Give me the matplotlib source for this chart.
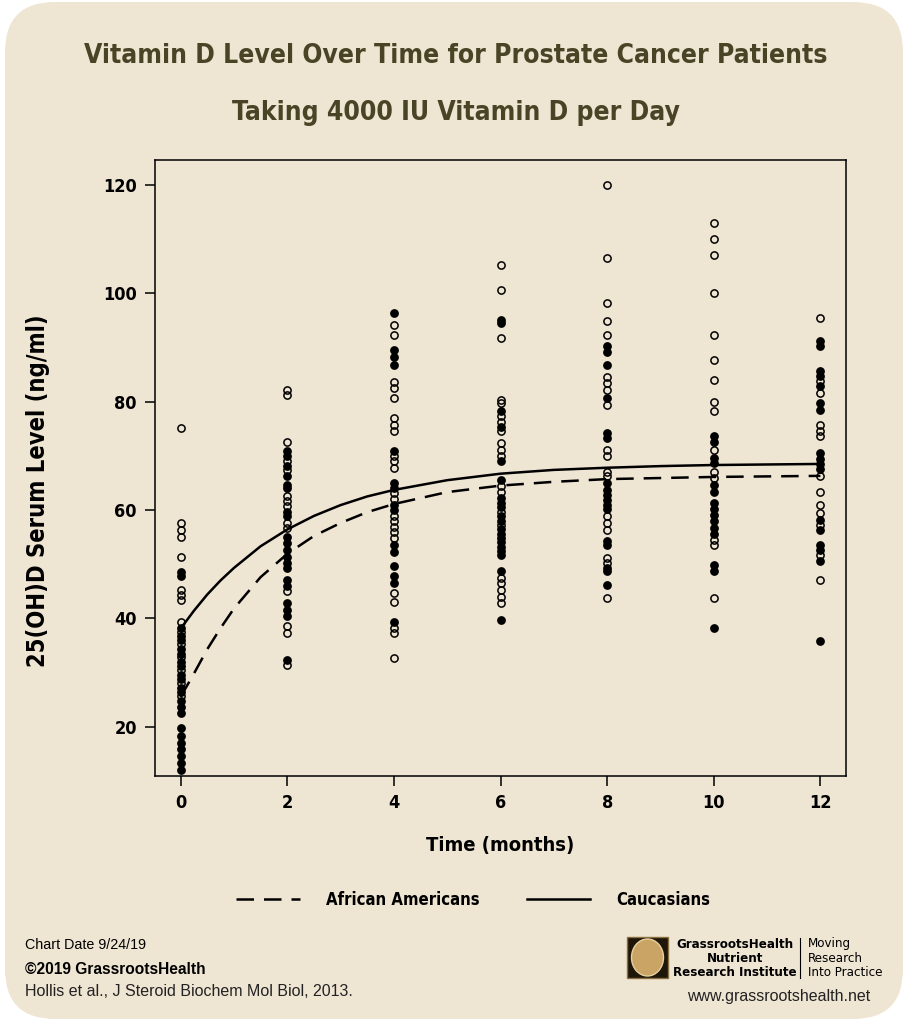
import matplotlib
matplotlib.use("Agg")
import matplotlib.pyplot as plt
from matplotlib.patches import FancyBboxPatch, Rectangle, Ellipse
from matplotlib.lines import Line2D

# ---- data ----
# measurement visits (months) and 25(OH)D values, filled markers
filled_0 = [48.5, 47.8, 38.2, 36.8, 36.0, 34.4, 33.5, 32.0, 31.2, 29.6, 28.8, 27.2,
            26.4, 24.8, 23.7, 22.6, 19.8, 18.2, 17.0, 15.8, 14.5, 13.3, 12.0]
open_0 = [75.2, 57.6, 56.3, 55.1, 51.4, 45.3, 44.4, 43.4, 39.4, 37.5, 35.2, 32.8,
          30.5, 28.0, 25.6]
filled_2 = [70.8, 69.9, 68.1, 66.2, 64.6, 64.1, 59.7, 58.8, 55.1, 53.9, 52.7, 51.4,
            50.2, 49.3, 47.1, 45.9, 42.8, 41.6, 40.4, 32.4]
open_2 = [82.2, 81.3, 72.6, 69.0, 67.4, 62.5, 61.6, 60.7, 57.6, 56.7, 45.0, 38.5,
          37.3, 31.4]
filled_4 = [96.3, 89.6, 88.3, 86.8, 70.8, 65.0, 64.0, 61.0, 60.0, 53.6, 52.3, 49.6,
            47.8, 46.5, 39.4]
open_4 = [94.2, 92.3, 83.7, 82.5, 80.6, 77.0, 75.7, 74.5, 69.9, 69.0, 67.7, 63.1,
          62.1, 58.8, 57.9, 56.9, 56.0, 54.8, 44.7, 43.1, 38.2, 37.3, 32.7]
filled_6 = [95.1, 94.5, 78.2, 75.4, 69.0, 65.6, 62.2, 61.3, 60.5, 58.8, 58.0, 56.4,
            55.6, 54.8, 54.0, 53.2, 52.4, 51.6, 48.7, 39.7]
open_6 = [105.2, 100.6, 91.7, 80.3, 79.8, 77.3, 76.3, 74.5, 72.3, 71.1, 69.9, 64.4,
          63.4, 59.6, 57.2, 47.4, 46.5, 45.3, 44.0, 42.8]
filled_8 = [90.2, 89.2, 86.8, 80.6, 74.2, 73.3, 65.0, 63.7, 62.8, 61.9, 61.0, 60.1,
            54.2, 53.6, 49.3, 48.7, 46.2]
open_8 = [120.0, 106.5, 98.2, 94.8, 92.3, 84.6, 83.4, 82.2, 79.4, 71.1, 69.9, 67.1,
          66.2, 58.8, 57.6, 56.3, 51.1, 50.2, 43.8]
filled_10 = [73.6, 72.6, 69.6, 68.7, 64.6, 63.4, 61.3, 60.2, 59.0, 57.9, 56.7, 55.6,
             49.9, 48.7, 38.2]
open_10 = [112.9, 110.0, 107.1, 100.0, 92.3, 87.7, 84.0, 80.0, 78.2, 71.1, 67.1,
           65.9, 54.4, 53.6, 43.8]
filled_12 = [91.1, 90.2, 85.6, 84.7, 82.8, 79.7, 78.5, 70.5, 69.5, 68.5, 67.5, 58.2,
             56.3, 53.6, 52.6, 50.5, 35.8]
open_12 = [95.4, 83.8, 81.6, 75.7, 74.5, 73.6, 66.2, 63.4, 61.0, 59.4, 57.3, 51.6,
           47.1]

visits = [0, 2, 4, 6, 8, 10, 12]
filled_vals = [filled_0, filled_2, filled_4, filled_6, filled_8, filled_10, filled_12]
open_vals = [open_0, open_2, open_4, open_6, open_8, open_10, open_12]

# fitted curves, read at a set of times
curve_t = [0, 0.25, 0.5, 0.75, 1, 1.5, 2, 2.5, 3, 3.5, 4, 5, 6, 7, 8, 9, 10, 11, 12]
afr_am = [25.5, 29.8, 34.3, 38.2, 41.8, 47.6, 51.9, 55.2, 57.6, 59.6, 61.1, 63.3,
          64.5, 65.2, 65.7, 65.9, 66.1, 66.2, 66.3]
caucasian = [38.1, 41.4, 44.4, 47.0, 49.3, 53.3, 56.4, 58.9, 60.9, 62.5, 63.7, 65.5,
             66.7, 67.4, 67.8, 68.1, 68.3, 68.4, 68.5]

xticks = [0, 2, 4, 6, 8, 10, 12]
yticks = [20, 40, 60, 80, 100, 120]

BEIGE = "#efe5d3"
OLIVE = "#4a4426"
COND = ["Liberation Sans Narrow", "DejaVu Sans"]
DASH = (0, (7, 4))

fig = plt.figure(figsize=(9.07, 10.24), dpi=100)
fig.patch.set_facecolor("white")

bg = FancyBboxPatch((0.05, 0.05), 8.98, 10.17, boxstyle="round,pad=0,rounding_size=0.5",
                    transform=fig.dpi_scale_trans, facecolor=BEIGE, edgecolor="none",
                    zorder=-10)
fig.patches.append(bg)

fig.text(0.503, 1 - 56 / 1024, "Vitamin D Level Over Time for Prostate Cancer Patients",
         ha="center", va="center", fontsize=19, fontweight="bold", color=OLIVE,
         family=COND, fontstretch="condensed")
fig.text(0.503, 1 - 113 / 1024, "Taking 4000 IU Vitamin D per Day",
         ha="center", va="center", fontsize=19, fontweight="bold", color=OLIVE,
         family=COND, fontstretch="condensed")

ax = fig.add_axes([155 / 907, 1 - 776 / 1024, 691 / 907, 616 / 1024])
ax.set_facecolor(BEIGE)

for x, fv, ov in zip(visits, filled_vals, open_vals):
    ax.plot([x] * len(ov), ov, "o", ms=5.2, mfc="none", mec="black", mew=1.1)
    ax.plot([x] * len(fv), fv, "o", ms=5.2, mfc="black", mec="black", mew=1.1)

ax.plot(curve_t, afr_am, color="black", lw=1.8, ls=DASH)
ax.plot(curve_t, caucasian, color="black", lw=1.8)

ax.set_xlim(-0.48, 12.48)
ax.set_ylim(10.9, 124.6)
ax.set_xticks(xticks)
ax.set_yticks(yticks)
ax.tick_params(direction="out", length=7, width=1.1, pad=6, labelsize=13)
for lab in ax.get_xticklabels() + ax.get_yticklabels():
    lab.set_family(COND)
    lab.set_fontstretch("condensed")
    lab.set_fontweight("bold")
for sp in ax.spines.values():
    sp.set_linewidth(1.1)

ax.set_xlabel("Time (months)", fontsize=14.5, fontweight="bold", family=COND,
              fontstretch="condensed")
ax.set_ylabel("25(OH)D Serum Level (ng/ml)", fontsize=17, fontweight="bold",
              family=COND, fontstretch="condensed")
ax.xaxis.set_label_coords(0.5, -0.098)
ax.yaxis.set_label_coords(-0.152, 0.463)

handles = [Line2D([], [], color="black", lw=1.8, ls=DASH),
           Line2D([], [], color="black", lw=1.8)]
leg = fig.legend(handles, ["African Americans", "Caucasians"], loc="center",
                 bbox_to_anchor=(0.522, 1 - 900 / 1024), ncol=2, frameon=False,
                 handlelength=3.8, handletextpad=1.6, columnspacing=2.8,
                 prop={"family": COND, "weight": "bold", "size": 12,
                       "stretch": "condensed"})

# footer
fig.text(25 / 907, 1 - 945 / 1024, "Chart Date 9/24/19", fontsize=10.3,
         family="Liberation Sans", va="center")
fig.text(25 / 907, 1 - 969 / 1024, "\u00a92019 GrassrootsHealth", fontsize=11.2,
         family="Liberation Sans", fontweight="bold", va="center")
fig.text(25 / 907, 1 - 991 / 1024, "Hollis et al., J Steroid Biochem Mol Biol, 2013.",
         fontsize=11.5, family="Liberation Sans", va="center", color="#222222")

fig.patches.append(Rectangle((627 / 907, 1 - 978 / 1024), 41 / 907, 41 / 1024,
                             transform=fig.transFigure, facecolor="#1e1608",
                             edgecolor="#8a7040", lw=1))
fig.patches.append(Ellipse((647.5 / 907, 1 - 957.5 / 1024), 32 / 907, 37 / 1024,
                           transform=fig.transFigure, facecolor="#c9a464",
                           edgecolor="#e8d2a0", lw=1))
for i, t in enumerate(["GrassrootsHealth", "Nutrient", "Research Institute"]):
    fig.text(735 / 907, 1 - (944 + 14 * i) / 1024, t, ha="center", va="center",
             fontsize=9.5, fontweight="bold", family=COND, fontstretch="condensed")
fig.add_artist(Line2D([800 / 907, 800 / 907], [1 - 938 / 1024, 1 - 978 / 1024],
                      transform=fig.transFigure, color="black", lw=0.8))
for i, t in enumerate(["Moving", "Research", "Into Practice"]):
    fig.text(808 / 907, 1 - (944 + 14 * i) / 1024, t, ha="left", va="center",
             fontsize=9.5, family=COND, fontstretch="condensed")
fig.text(779 / 907, 1 - 997 / 1024, "www.grassrootshealth.net", ha="center",
         va="center", fontsize=11.5, family="Liberation Sans", color="#222222")

fig.savefig("out.png", dpi=100, facecolor="white")
